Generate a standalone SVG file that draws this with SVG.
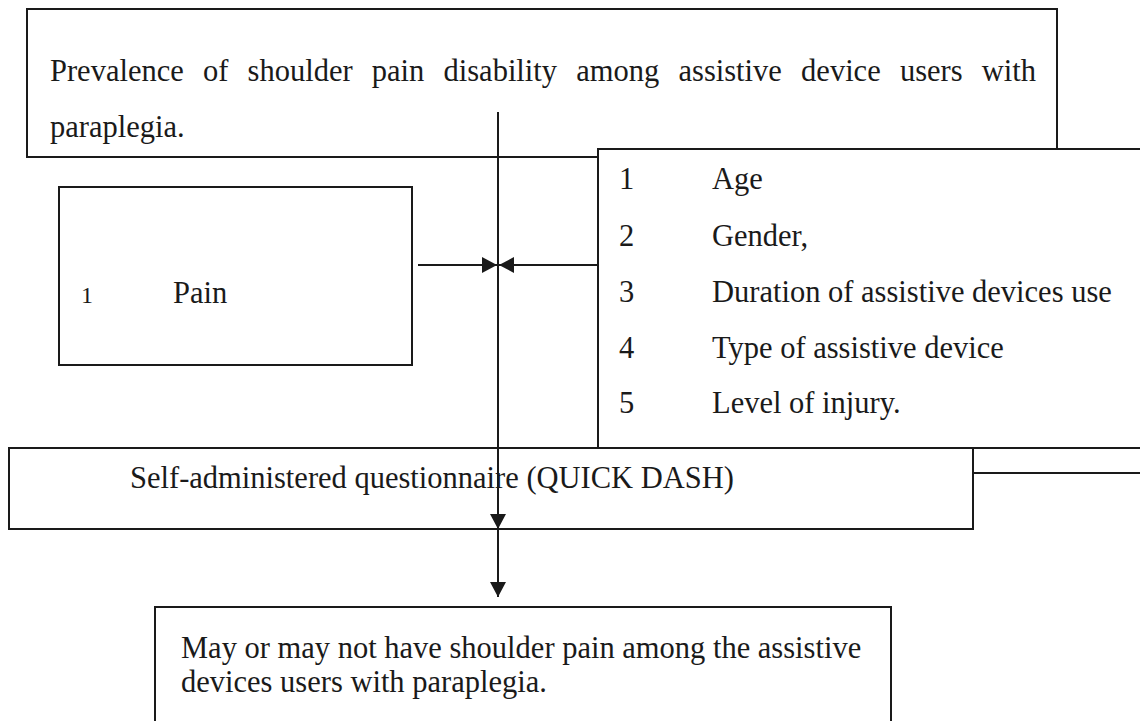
<svg xmlns="http://www.w3.org/2000/svg" width="1140" height="721" viewBox="0 0 1140 721">
<style>
.box{fill:#fff;stroke:#1a1a1a;stroke-width:2}
.t{font-family:"Liberation Serif","Times New Roman",serif;font-size:30.5px;fill:#1a1a1a}
.s{font-family:"Liberation Serif","Times New Roman",serif;font-size:24px;fill:#1a1a1a}
.c{fill:none;stroke:#1a1a1a;stroke-width:2}
</style>
<defs>
<marker id="ah" viewBox="0 0 15 16" refX="15" refY="8" markerWidth="15" markerHeight="16" markerUnits="userSpaceOnUse" orient="auto">
<path d="M0,0 L15,8 L0,16 Z" fill="#1a1a1a"/>
</marker>
</defs>
<rect width="1140" height="721" fill="#fff"/>
<g id="title">
<rect class="box" x="27" y="9" width="1030" height="148"/>
<text class="t" y="81"><tspan x="50">Prevalence</tspan><tspan x="203">of</tspan><tspan x="247.6">shoulder</tspan><tspan x="371.8">pain</tspan><tspan x="443.5">disability</tspan><tspan x="576.3">among</tspan><tspan x="678.5">assistive</tspan><tspan x="801.1">device</tspan><tspan x="899.9">users</tspan><tspan x="981.8">with</tspan></text>
<text class="t" x="50" y="137">paraplegia.</text>
</g>
<g id="factors">
<rect class="box" x="598" y="149" width="560" height="299"/>
<text class="t" x="619" y="189">1</text><text class="t" x="712" y="189">Age</text>
<text class="t" x="619" y="246">2</text><text class="t" x="712" y="246">Gender,</text>
<text class="t" x="619" y="302">3</text><text class="t" x="712" y="302">Duration of assistive devices use</text>
<text class="t" x="619" y="358">4</text><text class="t" x="712" y="358">Type of assistive device</text>
<text class="t" x="619" y="413">5</text><text class="t" x="712" y="413">Level of injury.</text>
</g>
<g id="pain">
<rect class="box" x="59" y="187" width="353" height="178"/>
<text class="s" x="81" y="303">1</text>
<text class="t" x="173" y="303">Pain</text>
</g>
<g id="questionnaire">
<rect class="box" x="9" y="448" width="964" height="81"/>
<text class="t" x="130" y="488">Self-administered questionnaire (QUICK DASH)</text>
</g>
<g id="outcome">
<rect class="box" x="155" y="607" width="736" height="130"/>
<text class="t" x="181" y="658">May or may not have shoulder pain among the assistive</text>
<text class="t" x="181" y="692">devices users with paraplegia.</text>
</g>
<g id="connectors">
<path class="c" d="M498,112 L498,529 L498,597" marker-mid="url(#ah)" marker-end="url(#ah)"/>
<path class="c" d="M418,265 L497,265" marker-end="url(#ah)"/>
<path class="c" d="M598,265 L499,265" marker-end="url(#ah)"/>
<path class="c" d="M973,473 L1140,473"/>
</g>
</svg>
